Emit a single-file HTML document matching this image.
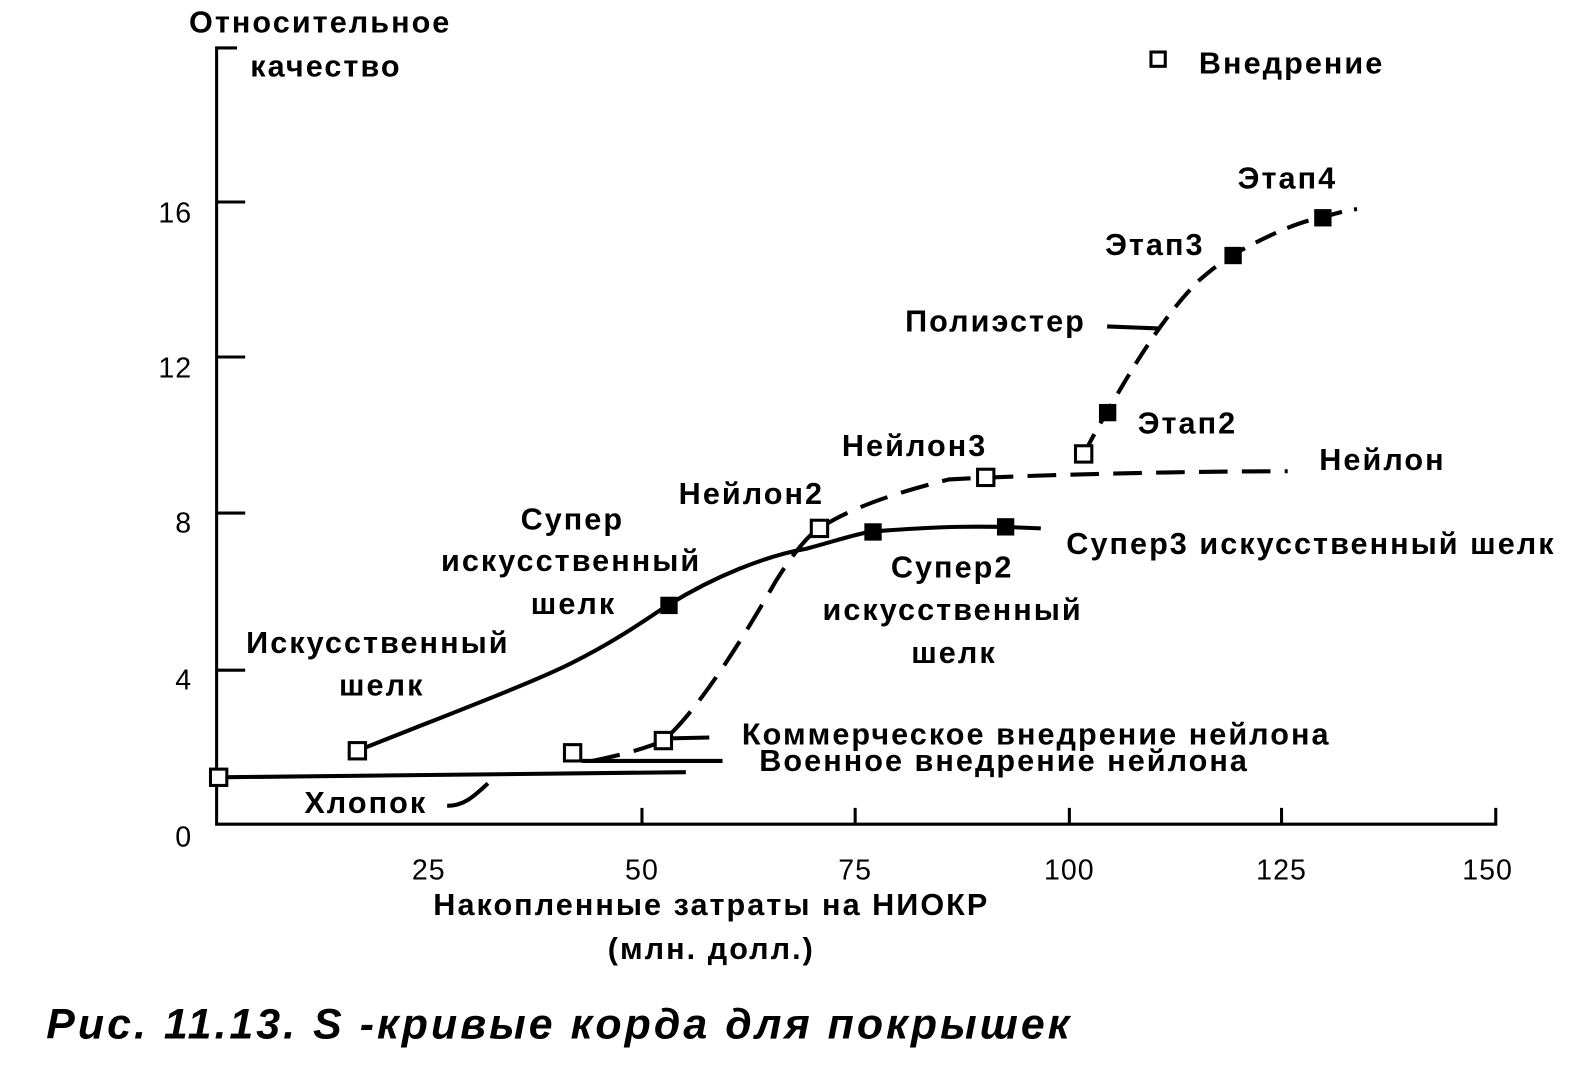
<!DOCTYPE html>
<html><head><meta charset="utf-8"><style>
html,body{margin:0;padding:0;background:#fff}
svg{display:block}
text{font-family:"Liberation Sans",sans-serif;font-size:30px;fill:#000;font-weight:bold;letter-spacing:2px}
text.n{font-weight:normal;letter-spacing:1px;font-size:28px}
</style></head><body>
<svg width="1592" height="1068" viewBox="0 0 1560 1047" xmlns="http://www.w3.org/2000/svg">
<g stroke="#000" stroke-width="3" fill="none">
<path d="M232,47 L212,47 L212,808 L1466,808 L1466,792"/>
<path d="M212,198 H240 M212,350 H240 M212,503 H240 M212,657 H240"/>
<path d="M629,808 V792 M838,808 V792 M1048,808 V792 M1256,808 V792"/>
</g>
<g stroke="#000" stroke-width="4" fill="none">
<path d="M214,762 L672,757"/>
<path d="M350,736 C440,700 520,670 560,650 C610,625 640,602 655,593 C700,565 750,545 790,538 C820,530 840,523 855,521 C920,516 960,515 1020,518"/>
<path d="M570,746 L708,746"/>
<path d="M580,746 C600,742 630,735 650,726 C680,700 720,640 760,570 C780,538 795,522 803,518 C830,500 870,485 930,470 C1000,466 1150,462 1262,462" stroke-dasharray="28,14"/>
<path d="M650,724 L695,723"/>
<path d="M1062,445 C1070,430 1078,415 1085,404 C1110,360 1140,310 1175,275 C1190,262 1200,255 1208,250 C1240,232 1270,218 1296,213 C1310,209 1320,206 1330,205" stroke-dasharray="22,12"/>
<path d="M1085,320 L1135,322"/>
<path d="M438,790 C455,790 465,780 478,768"/>
</g>
<g stroke="#000" stroke-width="3" fill="#fff">
<rect x="206" y="754" width="16" height="16"/>
<rect x="342" y="728" width="16" height="16"/>
<rect x="553" y="730" width="16" height="16"/>
<rect x="642" y="718" width="16" height="16"/>
<rect x="795" y="510" width="16" height="16"/>
<rect x="958" y="460" width="16" height="16"/>
<rect x="1054" y="437" width="16" height="16"/>
<rect x="1128" y="51" width="14" height="14"/>
</g>
<g fill="#000">
<rect x="647" y="585" width="17" height="17"/>
<rect x="847" y="513" width="17" height="17"/>
<rect x="977" y="508" width="17" height="17"/>
<rect x="1077" y="396" width="17" height="17"/>
<rect x="1200" y="242" width="17" height="17"/>
<rect x="1288" y="205" width="17" height="17"/>
</g>
<text x="185" y="32">Относительное</text>
<text x="245" y="75">качество</text>
<text class="n" x="188" y="218" text-anchor="end">16</text>
<text class="n" x="188" y="370" text-anchor="end">12</text>
<text class="n" x="188" y="522" text-anchor="end">8</text>
<text class="n" x="188" y="676" text-anchor="end">4</text>
<text class="n" x="188" y="830" text-anchor="end">0</text>
<g text-anchor="middle">
<text class="n" x="420" y="862">25</text><text class="n" x="629" y="862">50</text><text class="n" x="838" y="862">75</text>
<text class="n" x="1048" y="862">100</text><text class="n" x="1256" y="862">125</text><text class="n" x="1458" y="862">150</text>
<text x="697" y="897">Накопленные затраты на НИОКР</text>
<text x="697" y="940">(млн. долл.)</text>
</g>
<text x="1175" y="72">Внедрение</text>
<text x="1213" y="185">Этап4</text>
<text x="1083" y="250">Этап3</text>
<text x="887" y="325">Полиэстер</text>
<text x="1115" y="425">Этап2</text>
<text x="825" y="447">Нейлон3</text>
<text x="1293" y="461">Нейлон</text>
<text x="665" y="494">Нейлон2</text>
<text x="510" y="519">Супер</text>
<text x="432" y="560">искусственный</text>
<text x="520" y="602">шелк</text>
<text x="1045" y="543">Супер3 искусственный шелк</text>
<text x="873" y="566">Супер2</text>
<text x="806" y="608">искусственный</text>
<text x="893" y="650">шелк</text>
<text x="241" y="640">Искусственный</text>
<text x="332" y="682">шелк</text>
<text x="727" y="730">Коммерческое внедрение нейлона</text>
<text x="744" y="756">Военное внедрение нейлона</text>
<text x="298" y="797">Хлопок</text>
<text x="45" y="1018" style="font-size:42px;font-weight:bold;font-style:italic;letter-spacing:3px">Рис. 11.13. S -кривые корда для покрышек</text>
</svg>
</body></html>
